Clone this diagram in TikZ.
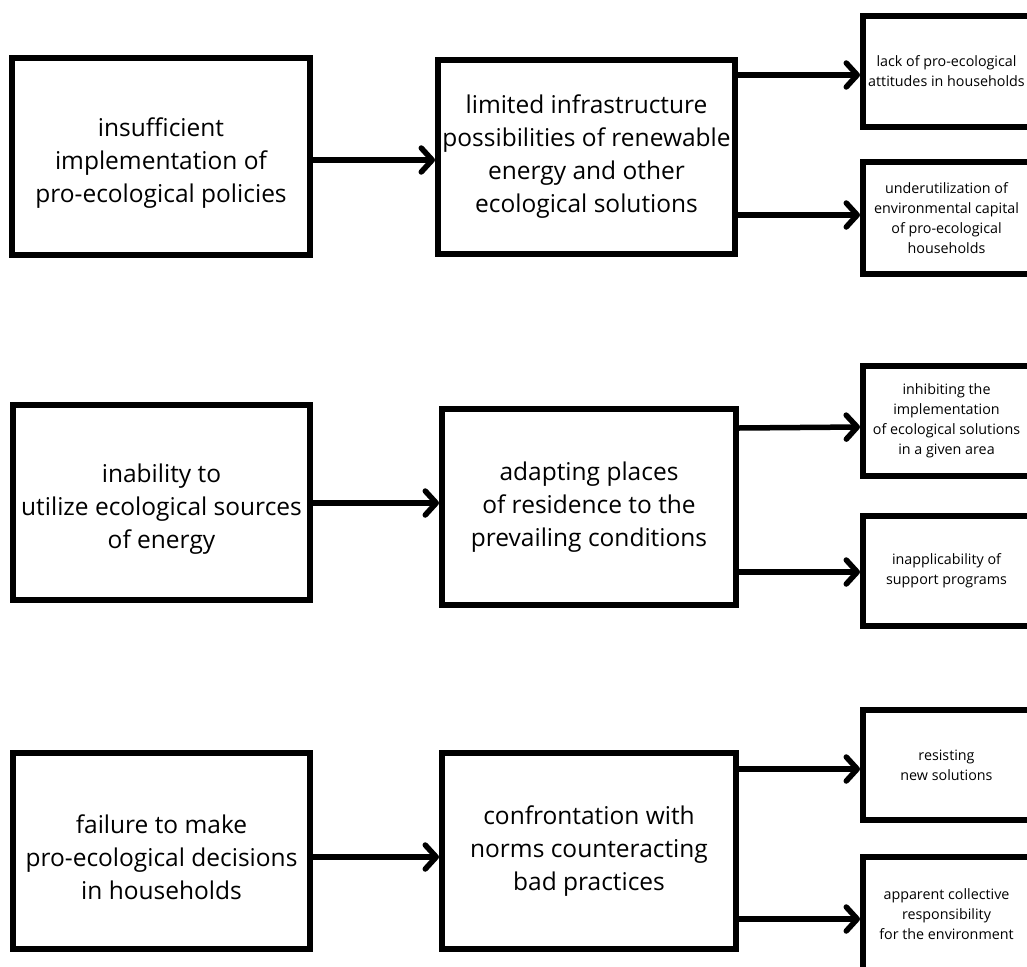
\documentclass[tikz,border=0pt]{standalone}
\usepackage{fontspec}
\setmainfont{Open Sans}
\usetikzlibrary{arrows.meta}
\tikzset{
  box/.style={draw=black, line width=6pt, fill=white, align=center, text=black,
    font=\fontsize{24.5}{33}\selectfont, inner sep=0pt},
  sbox/.style={box, font=\fontsize{14.3}{20}\selectfont},
  txt/.style={align=center, text=black, font=\fontsize{24.5}{33}\selectfont, inner sep=0pt},
  arr/.style={line width=5.5pt, -{Straight Barb[length=11pt,width=24pt,line join=round,line cap=round]}},
}
\begin{document}
\begin{tikzpicture}[x=1pt,y=-1pt]
\useasboundingbox (0,0) rectangle (1027,966);
\begin{scope}
\clip (0,0) rectangle (1027,966);
% row 1
\node[box, minimum width=298pt, minimum height=197pt] (L1) at (161,156.5) {};
\node[txt] (T1) at ([yshift=-7pt]L1.center) {insufficient\\implementation of\\pro-ecological policies};
\node[box, minimum width=297pt, minimum height=194pt] (M1) at (586.5,157) {limited infrastructure\\possibilities of renewable\\energy and other\\ecological solutions};
\node[sbox, minimum width=167pt, minimum height=111pt] (R11) at (946.5,71.5) {lack of pro-ecological\\attitudes in households};
\node[sbox, minimum width=167pt, minimum height=112pt] (R12) at (946.5,218) {underutilization of\\environmental capital\\of pro-ecological\\households};
% row 2
\node[box, minimum width=297pt, minimum height=195pt] (L2) at (161.5,502.5) {};
\node[txt] (T2) at ([yshift=-7pt]L2.center) {inability to\\utilize ecological sources\\of energy};
\node[box, minimum width=294pt, minimum height=196pt] (M2) at (589,507) {adapting places\\of residence to the\\prevailing conditions};
\node[sbox, minimum width=167pt, minimum height=110pt] (R21) at (946.5,421) {inhibiting the\\implementation\\of ecological solutions\\in a given area};
\node[sbox, minimum width=167pt, minimum height=110pt] (R22) at (946.5,571) {inapplicability of\\support programs};
% row 3
\node[box, minimum width=297pt, minimum height=196pt] (L3) at (161.5,851) {};
\node[txt] (T3) at ([yshift=-6pt]L3.center) {failure to make\\pro-ecological decisions\\in households};
\node[box, minimum width=294pt, minimum height=196pt] (M3) at (589,851) {confrontation with\\norms counteracting\\bad practices};
\node[sbox, minimum width=167pt, minimum height=110pt] (R31) at (946.5,765) {resisting\\new solutions};
\node[sbox, minimum width=167pt, minimum height=114pt] (R32) at (946.5,914) {apparent collective\\responsibility\\for the environment};
\end{scope}
% connectors
\draw[arr] (L1.east |- 0,160) -- (M1.west |- 0,160);
\draw[arr] (M1.east |- 0,75) -- (R11.west |- 0,75);
\draw[arr] (M1.east |- 0,215) -- (R12.west |- 0,215);
\draw[arr] (L2.east |- 0,503) -- (M2.west |- 0,503);
\draw[arr] (M2.east |- 0,428) -- (R21.west |- 0,427);
\draw[arr] (M2.east |- 0,572) -- (R22.west |- 0,572);
\draw[arr] (L3.east |- 0,857) -- (M3.west |- 0,857);
\draw[arr] (M3.east |- 0,769) -- (R31.west |- 0,769);
\draw[arr] (M3.east |- 0,919) -- (R32.west |- 0,919);
\end{tikzpicture}
\end{document}
